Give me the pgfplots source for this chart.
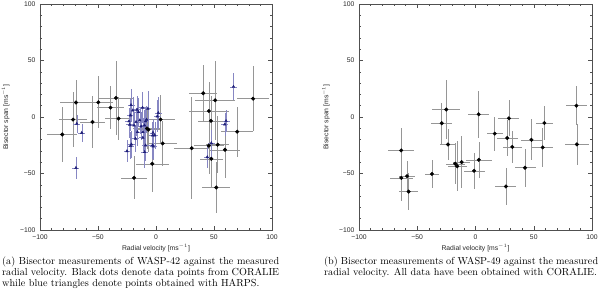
\documentclass[border=0pt]{standalone}
\usepackage{fontspec}
\newfontfamily\hfont{Liberation Sans}
\usepackage{pgfplots}
\pgfplotsset{compat=1.18}
\usepackage{pgfplotstable}

\pgfplotstableread{
x y ex ey
-80.8 -15.5 13 24
-71.5 -2.3 12 24
-69.0 12.8 14 20
-54.7 -4.4 11 23
-49.7 13.0 13 23
-39.2 8.3 12 19
-34.5 16.9 15 33
-32.3 -1.4 12 19
-18.9 -53.8 11 19
-7.8 -10.2 12 18
-6.5 -11.2 10 20
4.0 -2.2 12 22
5.8 -23.4 12 20
-3.2 -41.4 14 25
30.8 -27.6 15 45
40.7 21.0 12 25
45.6 5.3 17 26
47.4 -3.4 11 22
51.0 14.8 17 35
45.5 -25.4 13 25
53.2 -24.5 10 25
59.5 -29.0 13 25
47.7 -37.0 10 25
52.0 -62.4 12 23
70.0 -13.0 14 22
83.7 16.2 14 29
}\coraliea

\pgfplotstableread{
x y ex ey
-69.0 -45.0 3 10
-68.3 -6.0 3 8
-64.0 -14.0 3 8
-21.5 10.6 3 14
-20.0 5.9 3 12
-16.3 6.5 3 12
-22.0 1.5 3 14
-15.1 4.4 3 12
-11.6 8.3 3 14
-7.0 7.4 3 16
2.0 3.6 3 14
1.1 0.6 3 14
-23.3 -3.8 3 12
-22.7 -6.8 3 12
-19.0 -7.4 3 12
-17.2 -4.4 3 12
-14.0 -2.9 3 12
-12.8 -8.3 3 12
-9.0 -3.8 3 12
-9.9 -7.4 3 14
-8.1 -2.3 3 12
-16.0 -13.3 3 12
-11.3 -13.3 3 12
-2.6 -13.9 3 12
-1.1 -16.2 3 12
-17.7 -19.2 3 12
-11.3 -18.3 3 12
-2.9 -16.2 3 12
-21.2 -24.2 3 12
-25.0 -30.2 3 10
-9.0 -25.1 3 14
-9.9 -31.0 3 14
-2.4 -26.0 3 12
-22.0 -25.5 3 12
-3.0 -25.0 3 12
66.8 26.8 3 12
60.4 -3.5 3 10
59.3 -6.5 3 10
47.7 -23.1 3 12
44.2 -35.5 3 10
}\harpsa

\pgfplotstableread{
x y ex ey
-63.8 -29.6 11 20
-63.7 -53.9 10 20
-58.8 -52.3 7 13
-57.4 -66.0 8 16
-37.4 -50.4 6 12
-29.0 -5.5 9 18
-25.1 6.6 12 26
-23.6 -24.3 7 14
-17.4 -41.4 8 18
-15.7 -43.6 8 22
-11.9 -39.9 7 23
-1.2 -47.6 9 16
2.7 2.4 9 21
2.8 -37.9 11 16
16.5 -14.7 7 15
26.1 -61.5 9 16
27.2 -18.6 9 16
28.7 -1.2 9 16
31.6 -26.5 8 14
42.5 -44.9 9 17
48.0 -20.2 9 18
57.7 -26.9 9 17
59.1 -5.3 7 15
86.6 10.0 9 17
87.0 -24.2 10 18
}\coralieb

\definecolor{ebgray}{RGB}{150,150,150}
\definecolor{harpsmark}{RGB}{30,30,120}
\definecolor{harpsbar}{RGB}{135,135,195}
\definecolor{axcol}{RGB}{80,80,80}

\pgfplotsset{
  bisstyle/.style={
    scale only axis, width=232pt, height=226pt,
    xmin=-100, xmax=100, ymin=-100, ymax=100,
    xtick={-100,-50,0,50,100}, ytick={-100,-50,0,50,100},
    xticklabels={−100,−50,0,50,100}, yticklabels={−100,−50,0,50,100},
    minor tick num=4,
    tick align=inside,
    major tick length=4pt, minor tick length=2pt,
    axis line style={axcol, line width=0.4pt},
    tick style={axcol, line width=0.4pt},
    ticklabel style={font=\hfont\fontsize{6.8}{7}\selectfont, text=black!85},
    xticklabel shift=1pt,
    yticklabel shift=1pt,
    label style={font=\hfont\fontsize{6.8}{7}\selectfont, text=black!85},
    xlabel={Radial velocity [ms$^{-1}$]},
    ylabel={Bisector span [ms$^{-1}$]},
    xlabel style={at={(axis description cs:0.5,-0.08)}, anchor=center},
  },
  cor/.style={only marks, mark=*, mark size=1.8pt, black,
    error bars/.cd, x dir=both, x explicit, y dir=both, y explicit,
    error mark=none, error bar style={ebgray, line width=0.5pt}},
  har/.style={only marks, mark=triangle*, mark size=1.5pt, harpsmark,
    error bars/.cd, x dir=both, x explicit, y dir=both, y explicit,
    error mark=none, error bar style={harpsbar, line width=0.4pt}},
}

\begin{document}
\begin{tikzpicture}[x=1pt,y=1pt]
\useasboundingbox (0,0) rectangle (600,294);
\begin{axis}[bisstyle, at={(40pt,64pt)}, anchor=south west,
  ylabel style={at={(axis description cs:-0.148,0.5)}, anchor=center}]
\addplot[cor] table[x=x,y=y,x error=ex,y error=ey] {\coraliea};
\addplot[har] table[x=x,y=y,x error=ex,y error=ey] {\harpsa};
\end{axis}
\begin{axis}[bisstyle, at={(359pt,64pt)}, anchor=south west, width=233pt,
  ylabel style={at={(axis description cs:-0.142,0.5)}, anchor=center}]
\addplot[cor] table[x=x,y=y,x error=ex,y error=ey] {\coralieb};
\end{axis}
\node[anchor=north west, inner sep=0pt, text width=277pt, align=justify,
  font=\fontsize{10.2}{10.7}\selectfont] at (2,37)
  {(a) Bisector measurements of WASP-42 against the measured\linebreak
   radial velocity. Black dots denote data points from CORALIE\linebreak
   while blue triangles denote points obtained with HARPS.};
\node[anchor=north west, inner sep=0pt, text width=274pt, align=justify,
  font=\fontsize{10.2}{10.7}\selectfont] at (324,37)
  {(b) Bisector measurements of WASP-49 against the measured\linebreak
   radial velocity. All data have been obtained with CORALIE.};
\end{tikzpicture}
\end{document}
